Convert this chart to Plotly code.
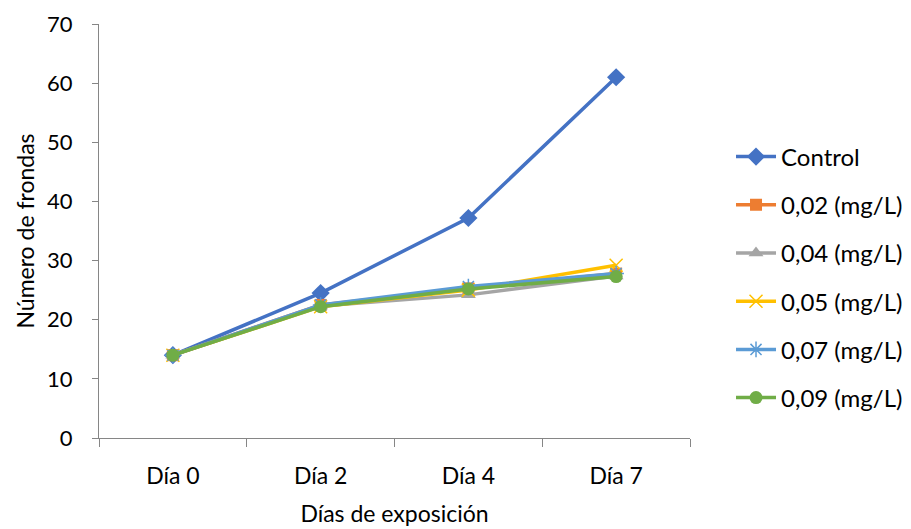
import plotly.graph_objects as go

days = ["Día 0", "Día 2", "Día 4", "Día 7"]
series_names = ["Control", "0,02 (mg/L)", "0,04 (mg/L)", "0,05 (mg/L)", "0,07 (mg/L)", "0,09 (mg/L)"]
control = [14.0, 24.5, 37.2, 61.0]
c002 = [14.0, 22.5, 25.3, 27.8]
c004 = [14.0, 22.3, 24.2, 27.4]
c005 = [14.0, 22.2, 25.0, 29.2]
c007 = [14.0, 22.5, 25.6, 27.8]
c009 = [14.0, 22.2, 25.2, 27.3]
y_ticks = [0, 10, 20, 30, 40, 50, 60, 70]

values = [control, c002, c004, c005, c007, c009]
colors = ["#4472C4", "#ED7D31", "#A5A5A5", "#FFC000", "#5B9BD5", "#70AD47"]
symbols = ["diamond", "square", "triangle-up", "x-thin-open", "asterisk-open", "circle"]
sizes = [14, 12, 13, 13, 13, 13]

font = "Lato, 'Open Sans', sans-serif"
fig = go.Figure()
for i, (name, vals) in enumerate(zip(series_names, values)):
    mk = dict(symbol=symbols[i], size=sizes[i], color=colors[i])
    if symbols[i] in ("x-thin-open", "asterisk-open"):
        mk["line"] = dict(color=colors[i], width=1.5)
    fig.add_trace(go.Scatter(
        x=days, y=vals, name=name, mode="lines+markers",
        line=dict(color=colors[i], width=3.5),
        marker=mk, legendgroup=f"g{i}",
    ))

fig.update_layout(
    width=911, height=529,
    margin=dict(l=91, r=229, t=16, b=99, autoexpand=False),
    paper_bgcolor="white", plot_bgcolor="white",
    font=dict(family=font, size=23, color="#000000"),
    legend=dict(x=1.0694, y=0.3877, yanchor="middle", xanchor="left",
                tracegroupgap=14, font=dict(size=24), itemwidth=40),
    xaxis=dict(type="category", range=[-0.5, 3.5], tickson="boundaries",
               automargin=False,
               showline=True, linecolor="#868686", linewidth=1,
               ticks="outside", ticklen=8, tickcolor="#868686",
               showgrid=False, zeroline=False, ticklabelstandoff=17,
               title=dict(text="Días de exposición", font=dict(size=23), standoff=18),
               tickfont=dict(size=23)),
    yaxis=dict(range=[0, 70], tickvals=y_ticks, showline=True, linecolor="#868686",
               automargin=False,
               linewidth=1, ticks="outside", ticklen=6, tickcolor="#868686",
               showgrid=False, zeroline=False, ticklabelstandoff=15,
               title=dict(text="Número de frondas", font=dict(size=23), standoff=6),
               tickfont=dict(size=22)),
)
fig.write_html("out.html")
